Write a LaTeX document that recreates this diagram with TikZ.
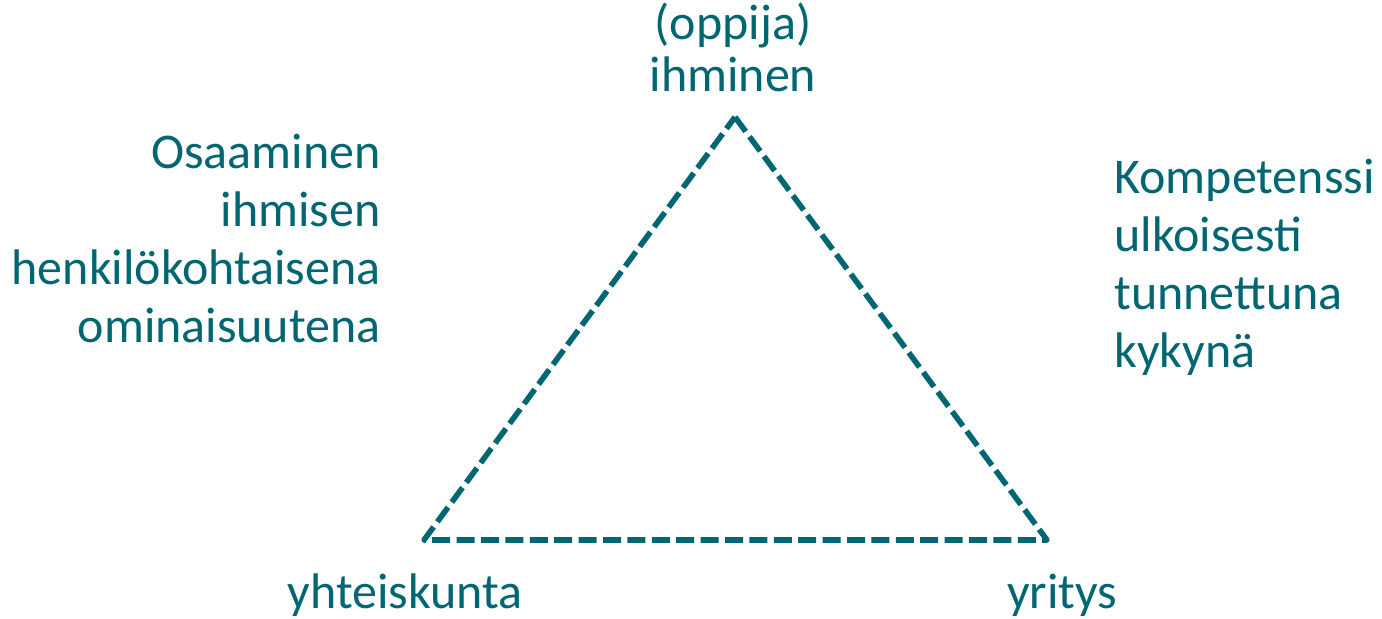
\documentclass[tikz,border=0pt]{standalone}
\usepackage{fontspec}
\setmainfont{Carlito}
\definecolor{teal}{HTML}{006671}
\begin{document}
\begin{tikzpicture}[x=0.5pt,y=-0.5pt,
  lbl/.style={text=teal, inner sep=0pt, font=\fontsize{25pt}{29pt}\selectfont},
  edge/.style={draw=teal, line width=2.8pt, dash pattern=on 9pt off 3.2pt, line cap=butt, line join=round}]
\useasboundingbox (0,0) rectangle (1382,618);
\coordinate (top) at (735,117);
\coordinate (bl) at (424,540);
\coordinate (br) at (1047,540);
\draw[edge] (top) -- (br) -- (bl) -- cycle;
\node[lbl, anchor=base, align=center, font=\fontsize{25pt}{26pt}\selectfont] (learner) at (733,91) {(oppija)\\ihminen};
\node[lbl, anchor=base east, align=right] (osaaminen) at (381,342) {Osaaminen\\ihmisen\\henkilökohtaisena\\ominaisuutena};
\node[lbl, anchor=base west, align=left] (komp) at (1114,367) {Kompetenssi\\ulkoisesti\\tunnettuna\\kykynä};
\node[lbl, anchor=base] (yht) at (405,608) {yhteiskunta};
\node[lbl, anchor=base] (yri) at (1062,608) {yritys};
\end{tikzpicture}
\end{document}
